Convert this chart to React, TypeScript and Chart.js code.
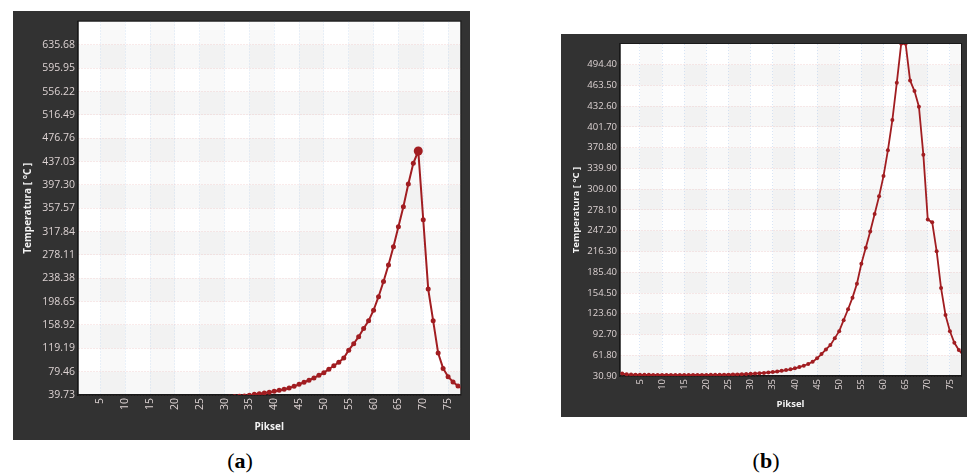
import React, { useEffect, useRef } from "react";
import { Chart, registerables } from "chart.js";

Chart.register(...registerables);

// ---------- data ----------
const piksel = [
  1, 2, 3, 4, 5, 6, 7, 8, 9, 10, 11, 12, 13, 14, 15, 16, 17, 18, 19, 20,
  21, 22, 23, 24, 25, 26, 27, 28, 29, 30, 31, 32, 33, 34, 35, 36, 37, 38, 39, 40,
  41, 42, 43, 44, 45, 46, 47, 48, 49, 50, 51, 52, 53, 54, 55, 56, 57, 58, 59, 60,
  61, 62, 63, 64, 65, 66, 67, 68, 69, 70, 71, 72, 73, 74, 75, 76, 77, 78,
];

const tempA = [
  30.2, 30.4, 30.3, 30.5, 30.6, 30.5, 30.7, 30.8, 30.9, 31.0,
  31.1, 31.0, 31.2, 31.3, 31.5, 31.6, 31.8, 31.9, 32.1, 32.3,
  32.5, 32.8, 33.0, 33.3, 33.6, 33.9, 34.3, 34.7, 35.1, 35.6,
  36.1, 36.7, 37.4, 38.2, 39.1, 40.9, 42.0, 43.1, 44.3, 46.0,
  47.7, 49.4, 51.6, 54.5, 57.9, 61.4, 64.8, 68.7, 73.3, 77.7,
  83.5, 89.6, 95.4, 102.7, 116.0, 127.0, 139.0, 153.0, 166.0, 184.0,
  207.0, 233.0, 261.0, 292.0, 326.0, 360.0, 399.0, 434.0, 455.0, 338.0,
  220.0, 166.0, 111.0, 85.0, 71.0, 62.0, 55.0, 50.0,
];

const tempB = [
  34.5, 33.4, 33.0, 32.8, 32.7, 32.6, 32.6, 32.5, 32.5, 32.4,
  32.4, 32.4, 32.3, 32.4, 32.3, 32.3, 32.4, 32.4, 32.5, 32.5,
  32.6, 32.6, 32.7, 32.8, 32.9, 33.1, 33.3, 33.5, 33.8, 34.1,
  34.5, 35.0, 35.5, 36.1, 36.8, 37.6, 38.6, 39.8, 40.8, 42.3,
  44.2, 46.2, 48.7, 52.1, 57.2, 63.5, 70.5, 76.9, 87.3, 97.6,
  114.0, 130.3, 147.6, 168.4, 198.1, 221.8, 246.0, 272.2, 298.4, 328.6,
  367.2, 412.1, 467.5, 526.0, 525.6, 471.0, 455.2, 431.9, 360.2, 263.8,
  259.8, 216.8, 161.9, 121.8, 97.6, 80.3, 69.5, 62.0,
];

const xTicks = [5, 10, 15, 20, 25, 30, 35, 40, 45, 50, 55, 60, 65, 70, 75];

const yTicksA = [
  39.73, 79.46, 119.19, 158.92, 198.65, 238.38, 278.11, 317.84,
  357.57, 397.3, 437.03, 476.76, 516.49, 556.22, 595.95, 635.68,
];
const yMaxA = 675.41;

const yTicksB = [
  30.9, 61.8, 92.7, 123.6, 154.5, 185.4, 216.3, 247.2,
  278.1, 309.0, 339.9, 370.8, 401.7, 432.6, 463.5, 494.4,
];
const yMaxB = 525.3;

// ---------- styling ----------
const FONT = "'Open Sans', 'Noto Sans', 'DejaVu Sans', sans-serif";
const LINE = "#a11d21";
const FRAME = "#323232";
const TICK_COLOR = "#ddd3d3";
const TITLE_COLOR = "#f2f2f2";

type Panel = {
  values: number[];
  yTicks: number[];
  yMax: number;
  xMin: number;
  xMax: number;
  plotLeft: number;
  plotTop: number;
  padRight: number;
  xScaleHeight: number;
  tickFont: number;
  titleFont: number;
  yTitlePad: number;
  xTitlePad: number;
  pointR: number;
  lineW: number;
  peakIndex: number;
  peakR: number;
};

function makeConfig(p: Panel): any {
  const rowEdges = [...p.yTicks, p.yMax];
  const colEdges = [p.xMin, ...xTicks, p.xMax];
  const checker = {
    id: "checker",
    beforeDraw(chart: any) {
      const { ctx, chartArea: ca, scales } = chart;
      const xs = scales.x;
      const ys = scales.y;
      ctx.save();
      ctx.fillStyle = "#ffffff";
      ctx.fillRect(ca.left, ca.top, ca.width, ca.height);
      ctx.fillStyle = "rgba(0,0,0,0.026)";
      for (let i = 0; i < rowEdges.length - 1; i++) {
        if (i % 2 !== 0) continue;
        const y1 = ys.getPixelForValue(rowEdges[i + 1]);
        const y2 = ys.getPixelForValue(rowEdges[i]);
        ctx.fillRect(ca.left, y1, ca.width, y2 - y1);
      }
      ctx.fillStyle = "rgba(0,0,0,0.022)";
      for (let j = 0; j < colEdges.length - 1; j++) {
        if (j % 2 !== 1) continue;
        const x1 = xs.getPixelForValue(colEdges[j]);
        const x2 = xs.getPixelForValue(colEdges[j + 1]);
        ctx.fillRect(x1, ca.top, x2 - x1, ca.height);
      }
      ctx.restore();
    },
    beforeDatasetsDraw(chart: any) {
      const { ctx, chartArea: ca } = chart;
      ctx.save();
      ctx.strokeStyle = "#1a1a1a";
      ctx.lineWidth = 1;
      ctx.strokeRect(ca.left, ca.top - 0.5, ca.width + 0.5, ca.height + 0.5);
      ctx.restore();
    },
  };

  return {
    type: "line",
    data: {
      datasets: [
        {
          data: piksel.map((x, i) => ({ x, y: p.values[i] })),
          borderColor: LINE,
          backgroundColor: LINE,
          borderWidth: p.lineW,
          pointRadius: (c: any) => (c.dataIndex === p.peakIndex ? p.peakR : p.pointR),
          pointBorderWidth: 0,
          pointBackgroundColor: LINE,
          tension: 0,
          clip: 0,
        },
      ],
    },
    options: {
      animation: false,
      responsive: false,
      maintainAspectRatio: false,
      layout: { padding: { left: 0, top: p.plotTop, right: p.padRight, bottom: 0 } },
      plugins: { legend: { display: false }, tooltip: { enabled: false } },
      scales: {
        x: {
          type: "linear",
          min: p.xMin,
          max: p.xMax,
          afterBuildTicks: (s: any) => {
            s.ticks = xTicks.map((v) => ({ value: v }));
          },
          afterFit: (s: any) => {
            s.height = p.xScaleHeight;
          },
          ticks: {
            color: TICK_COLOR,
            font: { family: FONT, size: p.tickFont },
            padding: 3,
            minRotation: 90,
            maxRotation: 90,
            autoSkip: false,
            callback: (v: any) => String(v),
          },
          grid: { color: "rgba(165,195,235,0.42)", lineWidth: 1, drawTicks: false },
          border: { display: true, color: "#161616", width: 1.5, dash: [1, 2] },
          title: {
            display: true,
            text: "Piksel",
            color: TITLE_COLOR,
            font: { family: FONT, size: p.titleFont, weight: "bold" },
            padding: { top: 0, bottom: p.xTitlePad },
          },
        },
        y: {
          type: "linear",
          min: p.yTicks[0],
          max: p.yMax,
          afterBuildTicks: (s: any) => {
            s.ticks = p.yTicks.map((v) => ({ value: v }));
          },
          afterFit: (s: any) => {
            s.width = p.plotLeft;
          },
          ticks: {
            color: TICK_COLOR,
            font: { family: FONT, size: p.tickFont },
            padding: 3,
            autoSkip: false,
            callback: (v: any) => Number(v).toFixed(2),
          },
          grid: { color: "rgba(230,165,165,0.45)", lineWidth: 1, drawTicks: false },
          border: { display: true, color: "#161616", width: 1.5, dash: [1, 2] },
          title: {
            display: true,
            text: "Temperatura [ °C ]",
            color: TITLE_COLOR,
            font: { family: FONT, size: p.titleFont, weight: "bold" },
            padding: { top: p.yTitlePad, bottom: 0 },
          },
        },
      },
    },
    plugins: [checker],
  };
}

const panelA: Panel = {
  values: tempA,
  yTicks: yTicksA,
  yMax: yMaxA,
  xMin: 0.5,
  xMax: 77.5,
  plotLeft: 65,
  plotTop: 10.5,
  padRight: 9.5,
  xScaleHeight: 45,
  tickFont: 10.5,
  titleFont: 10,
  yTitlePad: 9,
  xTitlePad: 7,
  pointR: 2.5,
  lineW: 2,
  peakIndex: 68,
  peakR: 4.5,
};

const panelB: Panel = {
  values: tempB,
  yTicks: yTicksB,
  yMax: yMaxB,
  xMin: 0.5,
  xMax: 77.5,
  plotLeft: 59,
  plotTop: 10,
  padRight: 6,
  xScaleHeight: 41,
  tickFont: 9.5,
  titleFont: 9.5,
  yTitlePad: 10,
  xTitlePad: 7,
  pointR: 2,
  lineW: 1.8,
  peakIndex: -1,
  peakR: 2,
};

function ChartPanel(props: { panel: Panel; left: number; top: number; width: number; height: number }) {
  const ref = useRef<HTMLCanvasElement | null>(null);
  useEffect(() => {
    if (!ref.current) return;
    const chart = new Chart(ref.current, makeConfig(props.panel));
    return () => chart.destroy();
  }, []);
  return (
    <div
      style={{
        position: "absolute",
        left: props.left,
        top: props.top,
        width: props.width,
        height: props.height,
        background: FRAME,
      }}
    >
      <canvas ref={ref} width={props.width} height={props.height} style={{ display: "block" }} />
    </div>
  );
}

const labelStyle: React.CSSProperties = {
  position: "absolute",
  width: 100,
  textAlign: "center",
  fontFamily: "'Liberation Serif', 'Times New Roman', serif",
  fontSize: 22,
  lineHeight: "26px",
  color: "#000",
};

export default function App() {
  return (
    <div
      style={{
        position: "absolute",
        left: 0,
        top: 0,
        width: 967,
        height: 475,
        background: "#ffffff",
        overflow: "hidden",
      }}
    >
      <ChartPanel panel={panelA} left={13} top={11} width={457} height={429} />
      <ChartPanel panel={panelB} left={561} top={34} width={406} height={383} />
      <div style={{ ...labelStyle, left: 190, top: 448 }}>
        (<b>a</b>)
      </div>
      <div style={{ ...labelStyle, left: 716, top: 448 }}>
        (<b>b</b>)
      </div>
    </div>
  );
}
